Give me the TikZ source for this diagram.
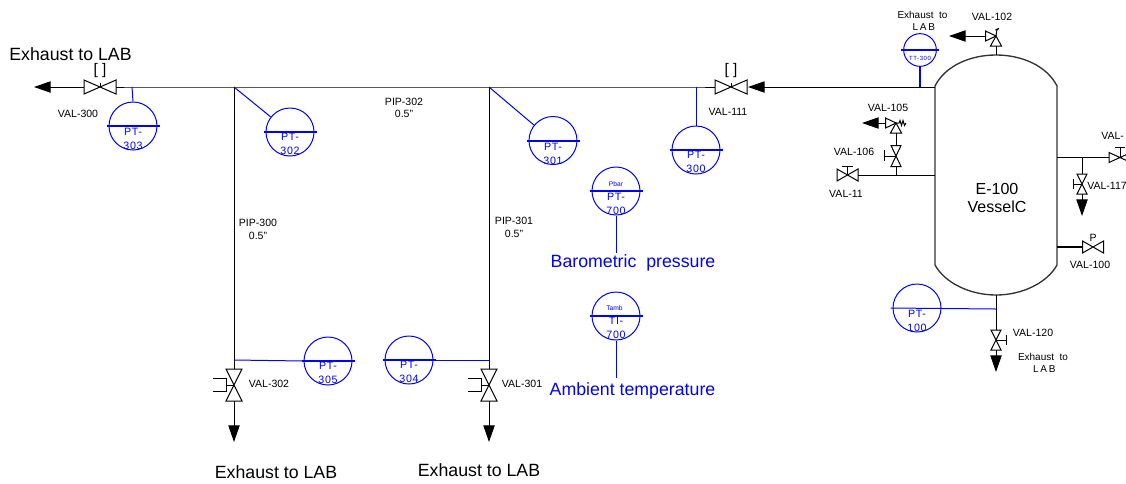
\documentclass[tikz,border=0pt]{standalone}
\usepackage{fontspec}
\setmainfont{Liberation Sans}
\usetikzlibrary{arrows.meta}
\tikzset{
	pipe/.style={line width=.75pt},
	vesselwall/.style={line width=1pt,black!80},
	signal/.style={line width=.75pt,blue},
	exhaust/.style={line width=.75pt,-{Triangle[length=12.5pt,width=8.5pt]}},
	gauge/.style={circle,draw=blue,line width=.75pt,inner sep=0pt,minimum size=36pt},
	smallgauge/.style={circle,draw=blue,line width=.75pt,inner sep=0pt,minimum size=24.5pt},
	gaugebar/.style={line width=1.5pt,blue,shorten <=-1.5pt,shorten >=-1.5pt},
	gaugetext/.style={text=blue,inner sep=0pt,align=center,font=\fontsize{8}{10.5}\selectfont\addfontfeature{LetterSpace=6}},
	tinytext/.style={text=blue,inner sep=0pt,font=\fontsize{5}{6}\selectfont},
	tagtext/.style={inner sep=0pt,align=center,font=\fontsize{7.9}{9.5}\selectfont},
	smalllab/.style={tagtext,font=\fontsize{7.5}{9}\selectfont},
	bracket/.style={inner sep=0pt,font=\fontsize{11.5}{13}\selectfont},
	bigtext/.style={inner sep=0pt,font=\fontsize{13.3}{15}\selectfont},
	bluetext/.style={bigtext,text=blue},
	pics/valveh/.style args={#1/#2}{code={
		\draw[line width=.75pt] (-#1,-#2) -- (#1,#2) -- (#1,-#2) -- (-#1,#2) -- cycle;
		\coordinate (-c) at (0,0);
		\coordinate (-w) at (-#1,0);
		\coordinate (-e) at (#1,0);
	}},
	pics/valvev/.style args={#1/#2}{code={
		\draw[line width=.75pt] (-#2,-#1) -- (#2,-#1) -- (-#2,#1) -- (#2,#1) -- cycle;
		\coordinate (-c) at (0,0);
		\coordinate (-n) at (0,-#1);
		\coordinate (-s) at (0,#1);
	}},
	pics/relief/.style={code={
		\draw[line width=.75pt] (0,0) -- (-10.5,-5) -- (-10.5,5) -- cycle;
		\draw[line width=.75pt] (0,0) -- (-5.5,10) -- (5.5,10) -- cycle;
		\coordinate (-c) at (0,0);
		\coordinate (-w) at (-10.5,0);
		\coordinate (-s) at (0,10);
	}}
}
\begin{document}
\begin{tikzpicture}[x=.75pt,y=-.75pt]
	\useasboundingbox (0,0) rectangle (1126,483);
	\clip (0,0) rectangle (1126,483);

	% vessel
	\draw[vesselwall] (935,86) .. controls (945,66) and (970,55) .. (996,55)
		.. controls (1022,55) and (1047,66) .. (1057,86) -- (1057,265)
		.. controls (1047,283) and (1022,295) .. (996,295)
		.. controls (970,295) and (945,283) .. (935,265) -- cycle;
	\node[inner sep=0pt,align=center,font=\fontsize{12}{13}\selectfont] (vessel) at (997,198) {E-100\\VesselC};
	\coordinate (vesseltop) at (996,55);
	\coordinate (vesselbot) at (996,295);
	\coordinate (vesselin) at (935,87);
	\coordinate (vessel106) at (935,175);
	\coordinate (vesselout) at (1057,157.5);
	\coordinate (vessel100) at (1057,247);

	% main line
	\coordinate (tee302) at (234,87);
	\coordinate (tee301) at (489,87);
	\coordinate (tee303) at (132,87);
	\coordinate (tee300) at (696,87);
	\coordinate (end300) at (34,87);
	\coordinate (end111) at (748,87);
	\pic (v300) at (100,87) {valveh=16/7};
	\pic (v111) at (731,87) {valveh=16/7};
	\draw[pipe] (v300-c) -- ++(0,-4);
	\draw[pipe] (v111-c) -- ++(0,-4);
	\draw[exhaust] (v300-w) -- (end300);
	\draw[pipe] (v300-e) -- (tee303) -- (tee302) -- (tee301) -- (tee300) -- (v111-w);
	\draw[exhaust] (vesselin) -- (end111);
	\node[bigtext] (lab300) at (70.5,54) {Exhaust to LAB};
	\node[bracket] (br300) at (100,71) {[\ ]};
	\node[bracket] (br111) at (731,71) {[\ ]};
	\node[tagtext] (t300) at (78,114) {VAL-300};
	\node[tagtext] (t111) at (728,112) {VAL-111};
	\node[tagtext] (pip302) at (404,108) {PIP-302\\0.5"};
	\node[tagtext] (pip300) at (258,229.5) {PIP-300\\0.5"};
	\node[tagtext] (pip301) at (514,227.5) {PIP-301\\0.5"};

	% down legs
	\pic (v302) at (234,385) {valvev=16/8};
	\pic (v301) at (489,385) {valvev=16/8};
	\coordinate (end302) at (234,442);
	\coordinate (end301) at (489,442);
	\coordinate (stem302) at (226,385);
	\coordinate (stem301) at (481,385);
	\draw[pipe] (tee302) -- (v302-n);
	\draw[pipe] (tee301) -- (v301-n);
	\draw[exhaust] (v302-s) -- (end302);
	\draw[exhaust] (v301-s) -- (end301);
	\draw[pipe] (v302-c) -- (stem302);
	\draw[pipe] (v301-c) -- (stem301);
	\draw[pipe] (213,378.5) -- (226,378.5) -- (226,391) -- (213,391);
	\draw[pipe] (468,378.5) -- (481,378.5) -- (481,391) -- (468,391);
	\node[tagtext] (t302) at (269,384) {VAL-302};
	\node[tagtext] (t301) at (522,384) {VAL-301};
	\node[bigtext] (lab302) at (276,472) {Exhaust to LAB};
	\node[bigtext] (lab301) at (479,470) {Exhaust to LAB};

	% gauges on the line
	\node[gauge] (pt303) at (133,126) {};
	\draw[gaugebar] (pt303.west) -- (pt303.east);
	\node[gaugetext] (pt303t) at (133,138.5) {PT-\\303};
	\draw[signal] (tee303) -- (pt303.north);

	\node[gauge] (pt302) at (290,132) {};
	\draw[gaugebar] (pt302.west) -- (pt302.east);
	\node[gaugetext] (pt302t) at (290,144) {PT-\\302};
	\draw[signal] (tee302) -- (pt302.142);

	\node[gauge] (pt301) at (553,140.5) {};
	\draw[gaugebar] (pt301.west) -- (pt301.east);
	\node[gaugetext] (pt301t) at (553,153.5) {PT-\\301};
	\draw[signal] (tee301) -- (pt301.141);

	\node[gauge] (pt300) at (696,150) {};
	\draw[gaugebar] (pt300.west) -- (pt300.east);
	\node[gaugetext] (pt300t) at (696,162) {PT-\\300};
	\draw[signal] (tee300) -- (pt300.north);

	\coordinate (tee305) at (234,360);
	\coordinate (tee304) at (489,360);
	\node[gauge] (pt305) at (328,361) {};
	\draw[gaugebar] (pt305.west) -- (pt305.east);
	\node[gaugetext] (pt305t) at (328,373) {PT-\\305};
	\draw[signal] (tee305) -- (pt305.west);

	\node[gauge] (pt304) at (409,360) {};
	\draw[gaugebar] (pt304.west) -- (pt304.east);
	\node[gaugetext] (pt304t) at (409,371.5) {PT-\\304};
	\draw[signal] (tee304) -- (pt304.east);

	% free gauges
	\node[gauge] (pt700) at (616,191) {};
	\draw[gaugebar] (pt700.west) -- (pt700.east);
	\node[tinytext] (pbar) at (616,184.5) {Pbar};
	\node[gaugetext] (pt700t) at (616,203.5) {PT-\\700};
	\coordinate (end700) at (616,253);
	\draw[signal] (pt700.south) -- (end700);
	\node[bluetext] (baro) at (633,263) {Barometric\ \ pressure};

	\node[gauge] (ti700) at (616,316) {};
	\draw[gaugebar] (ti700.west) -- (ti700.east);
	\node[tinytext] (tamb) at (614.5,308.5) {Tamb};
	\node[gaugetext] (ti700t) at (616,328) {TI-\\700};
	\coordinate (endti) at (616,378);
	\draw[signal] (ti700.south) -- (endti);
	\node[bluetext] (ambient) at (632.5,391) {Ambient temperature};

	% vessel top
	\node[smallgauge] (tt300) at (920,50) {};
	\draw[gaugebar] (tt300.west) -- (tt300.east);
	\node[tinytext,font=\fontsize{4.5}{5}\selectfont\addfontfeature{LetterSpace=10}] (tt300t) at (920,58) {TT-300};
	\coordinate (tee300b) at (920,87);
	\draw[signal,line width=1.1pt] (tt300.south) -- (tee300b);
	\node[smalllab] (labtop) at (922.5,21) {Exhaust\ \ to\\\hspace*{2pt}L\,A\,B};

	\pic (v102) at (996,36) {relief};
	\coordinate (end102) at (949,36);
	\draw[pipe] (v102-s) -- (vesseltop);
	\draw[exhaust] (v102-w) -- (end102);
	\draw[pipe] (v102-c) -- (997,29);
	\draw[line width=1pt] (995.5,30) -- (999,28.5);
	\node[tagtext] (t102) at (992,17) {VAL-102};

	% vessel left
	\coordinate (tee106) at (896,175);
	\pic (v11) at (847.5,175) {valveh=10.5/6};
	\draw[pipe] (v11-e) -- (vessel106);
	\draw[pipe] (v11-c) -- (847.5,166);
	\draw[pipe] (842,166) -- (853,166);
	\node[tagtext] (t11) at (846,194) {VAL-11};
	\pic (v106) at (896,156) {valvev=10.5/5};
	\draw[pipe] (tee106) -- (v106-s);
	\draw[pipe] (v106-c) -- (884,156);
	\draw[pipe] (884,150) -- (884,161);
	\node[tagtext] (t106) at (854,152) {VAL-106};
	\pic (v105) at (896,123) {relief};
	\coordinate (end105) at (862,123);
	\draw[pipe] (v106-n) -- (v105-s);
	\draw[exhaust] (v105-w) -- (end105);
	\draw[pipe] (v105-c) -- (899,123) -- (900,120.5) -- (901.5,125.5) -- (903,120.5) -- (904.5,125.5) -- (906,123);
	\node[tagtext] (t105) at (888,108) {VAL-105};

	% vessel right
	\coordinate (tee117) at (1082,157.5);
	\coordinate (end117) at (1082,216);
	\pic (v116) at (1120,157.5) {valveh=11/5};
	\draw[pipe] (vesselout) -- (v116-w);
	\draw[pipe] (v116-c) -- (1120,147);
	\draw[pipe] (1115,147) -- (1125,147);
	\node[tagtext,anchor=west] (t116) at (1101,136) {VAL-};
	\pic (v117) at (1082,184) {valvev=10/5};
	\draw[pipe] (tee117) -- (v117-n);
	\draw[exhaust] (v117-s) -- (end117);
	\draw[pipe] (v117-c) -- (1073,184);
	\draw[pipe] (1073,179) -- (1073,189);
	\node[tagtext,anchor=west] (t117) at (1087,186) {VAL-117};
	\pic (v100) at (1093,247) {valveh=10.5/6};
	\draw[pipe,line width=1pt] (vessel100) -- (v100-w);
	\node[tagtext] (p100) at (1093,238) {P};
	\node[tagtext] (t100) at (1090,265) {VAL-100};

	% vessel bottom
	\coordinate (tee100) at (996,309);
	\coordinate (end120) at (996,372);
	\pic (v120) at (996,340) {valvev=10/5};
	\draw[pipe] (vesselbot) -- (v120-n);
	\draw[exhaust] (v120-s) -- (end120);
	\draw[pipe] (v120-c) -- (1006,340);
	\draw[pipe] (1006,335) -- (1006,344.5);
	\node[gauge] (pt100) at (917,308) {};
	\draw[signal] ([xshift=-1.5pt]pt100.west) -- (tee100);
	\node[gaugetext] (pt100t) at (917,320.5) {PT-\\100};
	\node[tagtext] (t120) at (1033,333) {VAL-120};
	\node[smalllab] (labbot) at (1043,363) {Exhaust\ \ to\\\hspace*{2pt}L\,A\,B};
\end{tikzpicture}
\end{document}
